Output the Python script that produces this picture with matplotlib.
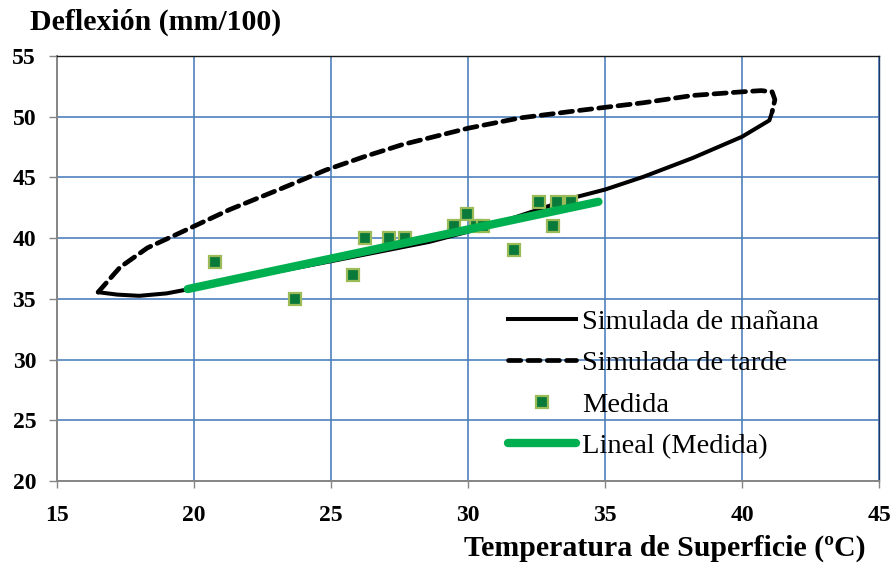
import numpy as np
import matplotlib
matplotlib.use("Agg")
import matplotlib.pyplot as plt
from matplotlib.lines import Line2D

# Simulated deflection, morning cycle (temperature ºC, deflection mm/100)
manana_temp = [16.5, 17.2, 18.0, 19.0, 19.7, 22.0, 25.0, 28.6, 30.7, 32.5,
               33.8, 35.0, 36.4, 38.2, 40.0, 41.0, 41.1]
manana_defl = [35.55, 35.35, 35.25, 35.45, 35.75, 36.8, 38.1, 39.7, 40.95, 42.3,
               43.3, 44.0, 45.05, 46.6, 48.35, 49.7, 50.4]

# Simulated deflection, afternoon cycle
tarde_temp = [16.5, 17.3, 18.3, 19.5, 21.3, 23.1, 24.8, 26.2, 27.6, 30.0,
              31.9, 34.0, 36.4, 38.2, 40.0, 40.7, 41.1, 41.2, 41.1]
tarde_defl = [35.55, 37.6, 39.2, 40.45, 42.35, 44.0, 45.6, 46.7, 47.7, 49.05,
              49.9, 50.5, 51.15, 51.75, 52.05, 52.15, 52.05, 51.4, 50.4]

# Measured deflections
medida_temp = [20.77, 23.69, 25.8, 26.24, 27.1, 27.7, 29.5, 29.96, 30.3, 30.55,
               31.68, 32.6, 33.1, 33.25, 33.76]
medida_defl = [38, 35, 37, 40, 40, 40, 41, 42, 41, 41, 39, 43, 41, 43, 43]

# Linear trend of the measurements, extended one degree each side
trend_forecast = 1.0

x_ticks = [15, 20, 25, 30, 35, 40, 45]
y_ticks = [20, 25, 30, 35, 40, 45, 50, 55]

serif = ["Liberation Serif", "DejaVu Serif"]
grid_blue = "#4f81bd"
axis_gray = "#868686"
dash_pattern = (2.6, 1.5)

fig = plt.figure(figsize=(8.93, 5.70), dpi=100)
ax = fig.add_axes([57 / 893, 1 - 481 / 570, (879 - 57) / 893, (481 - 56) / 570])

ax.set_xlim(x_ticks[0], x_ticks[-1])
ax.set_ylim(y_ticks[0], y_ticks[-1])
tick_font = {"family": serif, "fontweight": "bold", "fontsize": 17}
ax.set_xticks(x_ticks, labels=[str(v) for v in x_ticks], **tick_font)
ax.set_yticks(y_ticks, labels=[str(v) for v in y_ticks], **tick_font)
ax.grid(True, color=grid_blue, linewidth=1.2)
ax.set_axisbelow(True)

for side in ("left", "bottom"):
    ax.spines[side].set_color(axis_gray)
    ax.spines[side].set_linewidth(1.4)
ax.spines["top"].set_color("#1a1a1a")
ax.spines["top"].set_linewidth(1.0)
ax.spines["right"].set_color("#1f3864")
ax.spines["right"].set_linewidth(1.0)

ax.tick_params(axis="y", direction="out", length=6, width=1, color=axis_gray, pad=9)
ax.tick_params(axis="x", direction="out", length=5, width=1, color=axis_gray, pad=12)

# Simulated curves
ax.plot(manana_temp, manana_defl, color="black", linewidth=2.9,
        solid_capstyle="round", solid_joinstyle="round", zorder=3)
ax.plot(tarde_temp, tarde_defl, color="black", linewidth=3.4,
        dashes=dash_pattern, dash_capstyle="round", dash_joinstyle="round", zorder=3)

# Measurements and their linear fit
mx = np.array(medida_temp)
my = np.array(medida_defl)
slope, intercept = np.polyfit(mx, my, 1)
tx = np.array([mx.min() - trend_forecast, mx.max() + trend_forecast])
ax.plot(mx, my, linestyle="none", marker="s", markersize=8.5,
        markerfacecolor="#0a7a3a", markeredgecolor="#9bbb59", markeredgewidth=1.6,
        zorder=4)
ax.plot(tx, slope * tx + intercept, color="#00b050", linewidth=6,
        solid_capstyle="round", zorder=5)

handles = [
    Line2D([], [], color="black", linewidth=2.9),
    Line2D([], [], color="black", linewidth=3.4, dashes=dash_pattern, dash_capstyle="round"),
    Line2D([], [], linestyle="none", marker="s", markersize=8.5,
           markerfacecolor="#0a7a3a", markeredgecolor="#9bbb59", markeredgewidth=1.6),
    Line2D([], [], color="#00b050", linewidth=6, solid_capstyle="round"),
]
labels = ["Simulada de mañana", "Simulada de tarde", "Medida", "Lineal (Medida)"]
leg = ax.legend(handles, labels, loc="upper left",
                bbox_to_anchor=(508 / 893, 1 - 309 / 570), bbox_transform=fig.transFigure,
                frameon=False, handlelength=2.4, handletextpad=0.2,
                labelspacing=0.54, borderpad=0, borderaxespad=0,
                prop={"family": serif, "size": 20.5})

fig.text(30 / 893, 1 - 22 / 570, "Deflexión (mm/100)", family=serif,
         fontweight="bold", fontsize=21.5, ha="left", va="center")
fig.text(866 / 893, 1 - 548 / 570, "Temperatura de Superficie (ºC)", family=serif,
         fontweight="bold", fontsize=21.5, ha="right", va="center")

fig.savefig("out.png", dpi=100)
